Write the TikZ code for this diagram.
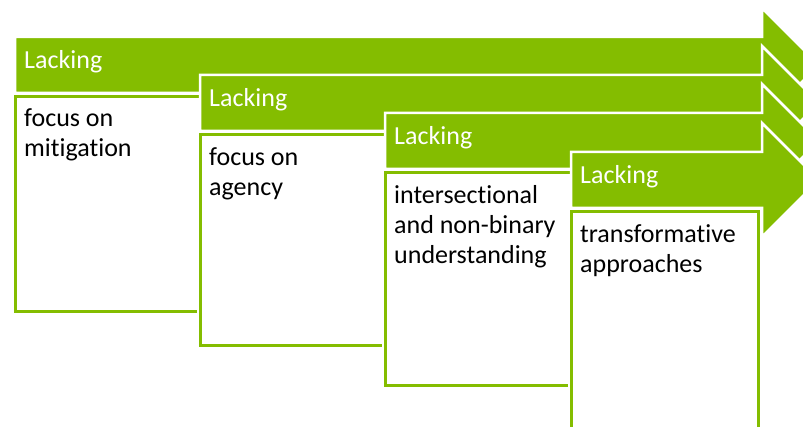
\documentclass[tikz,border=0pt]{standalone}
\usepackage{fontspec}
\setmainfont{Carlito}[Ligatures={TeX,NoCommon}]
\definecolor{Gruen}{RGB}{132,189,0}
\tikzstyle{Pfeil}= [fill=Gruen,draw=white,line width=2.5pt,line join=miter]
\tikzstyle{Kasten}= [fill=white,draw=Gruen,line width=3pt,preaction={draw=white,line width=6.5pt}]
\tikzstyle{Titel}= [anchor=base west,inner sep=0pt,text=white,font=\fontsize{26}{30}\selectfont]
% base = Grundlinie der letzten Zeile
\tikzstyle{Inhalt}= [anchor=base west,inner sep=0pt,align=left,font=\fontsize{26}{30}\selectfont]

\begin{document}
\begin{tikzpicture}[x=1pt,y=-1pt]

		\useasboundingbox (0,0) rectangle (803,427);
		\clip (0,0) rectangle (803,427);

		% Stufe 1
		\draw[Pfeil] (15,37) -- (762,37) -- (762,8) -- (819,65) -- (762,122) -- (762,93) -- (15,93) -- cycle;
		\draw[Kasten] (15,97) rectangle (201,312);
		\node [Titel] (t1) at (24,69) {Lacking};
		\node [Inhalt] (i1) at (24,157) {focus on\\mitigation};

		% Stufe 2
		\draw[Pfeil] (200,75) -- (762,75) -- (762,46) -- (819,103) -- (762,160) -- (762,131) -- (200,131) -- cycle;
		\draw[Kasten] (200,135) rectangle (386,346);
		\node [Titel] (t2) at (209,107) {Lacking};
		\node [Inhalt] (i2) at (209,196) {focus on\\agency};

		% Stufe 3
		\draw[Pfeil] (385,113) -- (762,113) -- (762,84) -- (819,141) -- (762,198) -- (762,169) -- (385,169) -- cycle;
		\draw[Kasten] (385,173) rectangle (571,386);
		\node [Titel] (t3) at (394,145) {Lacking};
		\node [Inhalt] (i3) at (394,264) {intersectional\\and non-binary\\understanding};

		% Stufe 4
		\draw[Pfeil] (571,152) -- (762,152) -- (762,123) -- (819,180) -- (762,237) -- (762,208) -- (571,208) -- cycle;
		\draw[Kasten] (571,212) rectangle (758,440);
		\node [Titel] (t4) at (580,184) {Lacking};
		\node [Inhalt] (i4) at (580,273) {transformative\\approaches};

	\end{tikzpicture}
\end{document}
